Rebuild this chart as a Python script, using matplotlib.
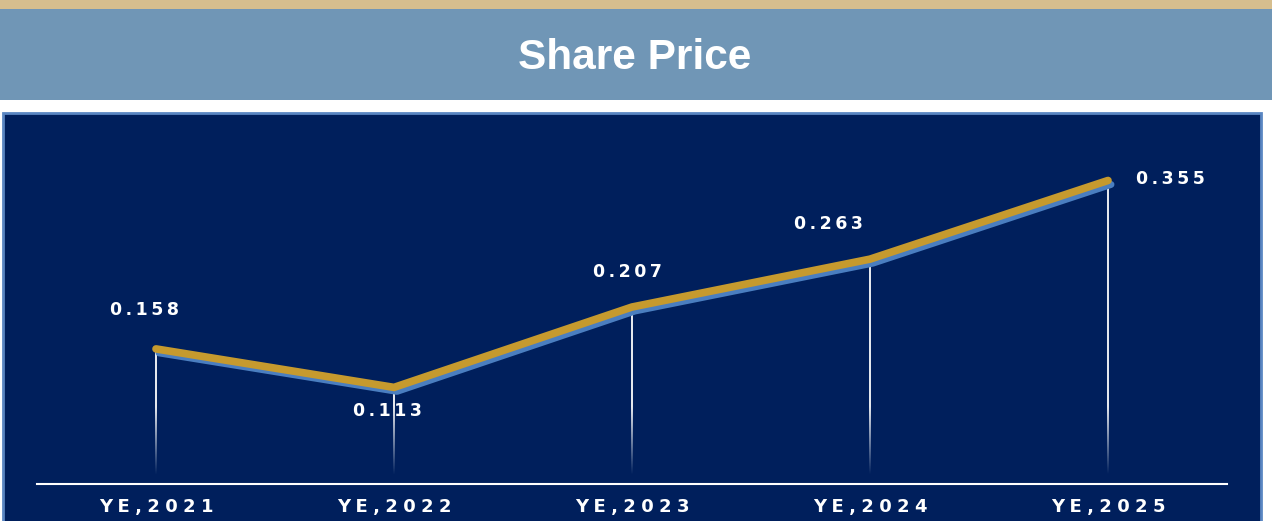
import numpy as np
import matplotlib.pyplot as plt
from matplotlib.patches import Rectangle
from matplotlib.transforms import ScaledTranslation

years = ['YE,2021', 'YE,2022', 'YE,2023', 'YE,2024', 'YE,2025']
price = [0.158, 0.113, 0.207, 0.263, 0.355]
label_offsets = [(-11, 39), (-7, -24), (-5, 35), (-42, 35), (62, 1)]  # pixels

W, H = 1272, 521
fig = plt.figure(figsize=(W / 100, H / 100), dpi=100)
fig.patch.set_facecolor('white')

def px_rect(x0, y0, x1, y1, **kw):
    # rectangle in pixel coords (y from top)
    fig.patches.append(Rectangle((x0 / W, 1 - y1 / H), (x1 - x0) / W, (y1 - y0) / H,
                                 transform=fig.transFigure, figure=fig, zorder=-5, **kw))

px_rect(0, 0, W, 9, facecolor='#D6BE8E', edgecolor='none')
px_rect(0, 9, W, 100, facecolor='#7096B6', edgecolor='none')
px_rect(3, 113, 1261, 522, facecolor='#001F5C', edgecolor='#5A86C2', linewidth=2)

fig.text(635 / W, 1 - 58 / H, 'Share Price', color='white', fontsize=30.5,
         fontweight='bold', family='Liberation Sans', ha='center', va='center')

ax = fig.add_axes([37 / W, 37 / H, 1190 / W, 354 / H])
ax.set_zorder(5)
ax.set_facecolor('none')
x = np.arange(len(years))

# drop lines fading towards the bottom (vertical gradient strips)
y_end = 0.011
half_w = 1.0 / 238
for xi, v in zip(x, price):
    t = np.linspace(1, 0, 200)  # top -> bottom
    yy = y_end + t * (v - y_end)
    alpha = np.clip((yy - y_end) / 0.08, 0, 1) * 0.9
    img = np.ones((200, 1, 4))
    img[:, 0, 3] = alpha
    ax.imshow(img, extent=[xi - half_w, xi + half_w, y_end, v], aspect='auto',
              interpolation='bilinear', zorder=2)

# shadow + gold line
ax.plot(x, price, color='#4A7EC0', linewidth=5, solid_capstyle='round', zorder=3,
        transform=ax.transData + ScaledTranslation(3 / 100, -4 / 100, fig.dpi_scale_trans))
ax.plot(x, price, color='#C69A2E', linewidth=5.5, solid_capstyle='round',
        solid_joinstyle='miter', zorder=4)

def spaced(s, sep):
    return sep.join(s)

for xi, v, (dx, dy) in zip(x, price, label_offsets):
    ax.annotate(spaced(f'{v:.3f}', '\u2009'), (xi, v), xytext=(dx, dy),
                textcoords='offset pixels', ha='center', va='center', color='white',
                fontsize=12.5, fontweight='bold', family='DejaVu Sans', zorder=5)

ax.set_xlim(-0.5, 4.5)
ax.set_ylim(0, 354 / 855)
for side in ['top', 'left', 'right']:
    ax.spines[side].set_visible(False)
ax.spines['bottom'].set_color('white')
ax.spines['bottom'].set_linewidth(1.5)
ax.set_yticks([])
ax.set_xticks(x)
ax.set_xticklabels([spaced(y, '\u2009\u200a') for y in years], color='white',
                   fontsize=13, fontweight='bold', family='DejaVu Sans')
ax.tick_params(axis='x', length=0, pad=10)

fig.savefig('out.png', dpi=100, facecolor=fig.get_facecolor())
